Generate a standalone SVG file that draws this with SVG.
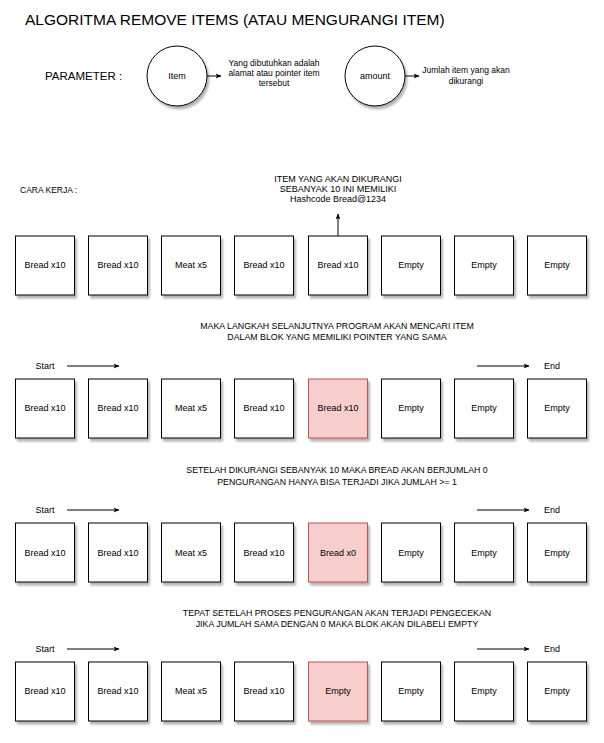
<svg xmlns="http://www.w3.org/2000/svg" width="604" height="743" viewBox="0 0 604 743">
<defs>
<filter id="sh" x="-20%" y="-20%" width="150%" height="150%">
<feGaussianBlur in="SourceAlpha" stdDeviation="1.2"/>
<feOffset dx="2" dy="3" result="b"/>
<feComponentTransfer><feFuncA type="linear" slope="0.3"/></feComponentTransfer>
<feMerge><feMergeNode/><feMergeNode in="SourceGraphic"/></feMerge>
</filter>
<marker id="ah" viewBox="0 0 10 10" refX="9" refY="5" markerWidth="6" markerHeight="6" orient="auto" markerUnits="userSpaceOnUse">
<path d="M0,1 L10,5 L0,9 L2.5,5 Z" fill="#000"/>
</marker>
</defs>
<style>
text{font-family:"Liberation Sans",Arial,sans-serif;fill:#000}
.b{fill:#fff;stroke:#000;stroke-width:1;filter:url(#sh)}
.p{fill:#f8cecc;stroke:#b85450;stroke-width:1;filter:url(#sh)}
.c{fill:#fff;stroke:#000;stroke-width:1;filter:url(#sh)}
.l{font-size:9px;text-anchor:middle}
.h{font-size:8.8px;text-anchor:middle}
.n{font-size:9px;text-anchor:middle}
.s{font-size:8.5px;text-anchor:middle}
.se{font-size:9px;text-anchor:middle}
.a{stroke:#000;stroke-width:1;fill:none;marker-end:url(#ah)}
</style>
<rect width="604" height="743" fill="#fff"/>
<text x="25" y="25" font-size="15.5">ALGORITMA REMOVE ITEMS (ATAU MENGURANGI ITEM)</text>
<text x="45" y="80" font-size="11.5">PARAMETER :</text>
<g id="item"><circle class="c" cx="177" cy="76" r="30"/><text class="l" x="177" y="79">Item</text></g>
<g id="item-desc"><text class="s" x="274" y="66">Yang dibutuhkan adalah</text><text class="s" x="274" y="76">alamat atau pointer item</text><text class="s" x="274" y="86">tersebut</text></g>
<g id="amount"><circle class="c" cx="375" cy="76" r="30"/><text class="l" x="375" y="79">amount</text></g>
<g id="amount-desc"><text class="s" x="466" y="73">Jumlah item yang akan</text><text class="s" x="466" y="84">dikurangi</text></g>
<text x="20" y="193" font-size="8.5">CARA KERJA :</text>
<g id="note1"><text class="n" x="338" y="182">ITEM YANG AKAN DIKURANGI</text><text class="n" x="338" y="192">SEBANYAK 10 INI MEMILIKI</text><text class="n" x="338" y="202">Hashcode Bread@1234</text></g>
<g id="row1">
<g id="r1b1"><rect class="b" x="15.5" y="236" width="59" height="59"/><text class="l" x="45" y="268">Bread x10</text></g>
<g id="r1b2"><rect class="b" x="88.5" y="236" width="59" height="59"/><text class="l" x="118" y="268">Bread x10</text></g>
<g id="r1b3"><rect class="b" x="161.5" y="236" width="59" height="59"/><text class="l" x="191" y="268">Meat x5</text></g>
<g id="r1b4"><rect class="b" x="234.5" y="236" width="59" height="59"/><text class="l" x="264" y="268">Bread x10</text></g>
<g id="r1b5"><rect class="b" x="308.5" y="236" width="59" height="59"/><text class="l" x="338" y="268">Bread x10</text></g>
<g id="r1b6"><rect class="b" x="381.5" y="236" width="59" height="59"/><text class="l" x="411" y="268">Empty</text></g>
<g id="r1b7"><rect class="b" x="454.5" y="236" width="59" height="59"/><text class="l" x="484" y="268">Empty</text></g>
<g id="r1b8"><rect class="b" x="527.5" y="236" width="59" height="59"/><text class="l" x="557" y="268">Empty</text></g>
</g>
<g id="note2"><text class="h" x="337" y="329">MAKA LANGKAH SELANJUTNYA PROGRAM AKAN MENCARI ITEM</text><text class="h" x="337" y="340">DALAM BLOK YANG MEMILIKI POINTER YANG SAMA</text></g>
<g id="row2">
<text class="se" x="45" y="369">Start</text><text class="se" x="552" y="369">End</text>
<g id="r2b1"><rect class="b" x="15.5" y="379" width="59" height="59"/><text class="l" x="45" y="411">Bread x10</text></g>
<g id="r2b2"><rect class="b" x="88.5" y="379" width="59" height="59"/><text class="l" x="118" y="411">Bread x10</text></g>
<g id="r2b3"><rect class="b" x="161.5" y="379" width="59" height="59"/><text class="l" x="191" y="411">Meat x5</text></g>
<g id="r2b4"><rect class="b" x="234.5" y="379" width="59" height="59"/><text class="l" x="264" y="411">Bread x10</text></g>
<g id="r2b5"><rect class="p" x="308.5" y="379" width="59" height="59"/><text class="l" x="338" y="411">Bread x10</text></g>
<g id="r2b6"><rect class="b" x="381.5" y="379" width="59" height="59"/><text class="l" x="411" y="411">Empty</text></g>
<g id="r2b7"><rect class="b" x="454.5" y="379" width="59" height="59"/><text class="l" x="484" y="411">Empty</text></g>
<g id="r2b8"><rect class="b" x="527.5" y="379" width="59" height="59"/><text class="l" x="557" y="411">Empty</text></g>
</g>
<g id="note3"><text class="h" x="337" y="473">SETELAH DIKURANGI SEBANYAK 10 MAKA BREAD AKAN BERJUMLAH 0</text><text class="h" x="337" y="485">PENGURANGAN HANYA BISA TERJADI JIKA JUMLAH &gt;= 1</text></g>
<g id="row3">
<text class="se" x="45" y="513">Start</text><text class="se" x="552" y="513">End</text>
<g id="r3b1"><rect class="b" x="15.5" y="523" width="59" height="59"/><text class="l" x="45" y="556">Bread x10</text></g>
<g id="r3b2"><rect class="b" x="88.5" y="523" width="59" height="59"/><text class="l" x="118" y="556">Bread x10</text></g>
<g id="r3b3"><rect class="b" x="161.5" y="523" width="59" height="59"/><text class="l" x="191" y="556">Meat x5</text></g>
<g id="r3b4"><rect class="b" x="234.5" y="523" width="59" height="59"/><text class="l" x="264" y="556">Bread x10</text></g>
<g id="r3b5"><rect class="p" x="308.5" y="523" width="59" height="59"/><text class="l" x="338" y="556">Bread x0</text></g>
<g id="r3b6"><rect class="b" x="381.5" y="523" width="59" height="59"/><text class="l" x="411" y="556">Empty</text></g>
<g id="r3b7"><rect class="b" x="454.5" y="523" width="59" height="59"/><text class="l" x="484" y="556">Empty</text></g>
<g id="r3b8"><rect class="b" x="527.5" y="523" width="59" height="59"/><text class="l" x="557" y="556">Empty</text></g>
</g>
<g id="note4"><text class="h" x="337" y="616">TEPAT SETELAH PROSES PENGURANGAN AKAN TERJADI PENGECEKAN</text><text class="h" x="337" y="627">JIKA JUMLAH SAMA DENGAN 0 MAKA BLOK AKAN DILABELI EMPTY</text></g>
<g id="row4">
<text class="se" x="45" y="652">Start</text><text class="se" x="552" y="652">End</text>
<g id="r4b1"><rect class="b" x="15.5" y="662" width="59" height="59"/><text class="l" x="45" y="694">Bread x10</text></g>
<g id="r4b2"><rect class="b" x="88.5" y="662" width="59" height="59"/><text class="l" x="118" y="694">Bread x10</text></g>
<g id="r4b3"><rect class="b" x="161.5" y="662" width="59" height="59"/><text class="l" x="191" y="694">Meat x5</text></g>
<g id="r4b4"><rect class="b" x="234.5" y="662" width="59" height="59"/><text class="l" x="264" y="694">Bread x10</text></g>
<g id="r4b5"><rect class="p" x="308.5" y="662" width="59" height="59"/><text class="l" x="338" y="694">Empty</text></g>
<g id="r4b6"><rect class="b" x="381.5" y="662" width="59" height="59"/><text class="l" x="411" y="694">Empty</text></g>
<g id="r4b7"><rect class="b" x="454.5" y="662" width="59" height="59"/><text class="l" x="484" y="694">Empty</text></g>
<g id="r4b8"><rect class="b" x="527.5" y="662" width="59" height="59"/><text class="l" x="557" y="694">Empty</text></g>
</g>
<g id="connectors">
<line class="a" x1="207" y1="76" x2="221" y2="76"/>
<line class="a" x1="405" y1="76" x2="419" y2="76"/>
<line class="a" x1="338" y1="236" x2="338" y2="214"/>
<line class="a" x1="67" y1="366" x2="119" y2="366"/>
<line class="a" x1="477" y1="366" x2="529" y2="366"/>
<line class="a" x1="67" y1="510" x2="119" y2="510"/>
<line class="a" x1="477" y1="510" x2="529" y2="510"/>
<line class="a" x1="67" y1="649" x2="119" y2="649"/>
<line class="a" x1="477" y1="649" x2="529" y2="649"/>
</g>
</svg>
